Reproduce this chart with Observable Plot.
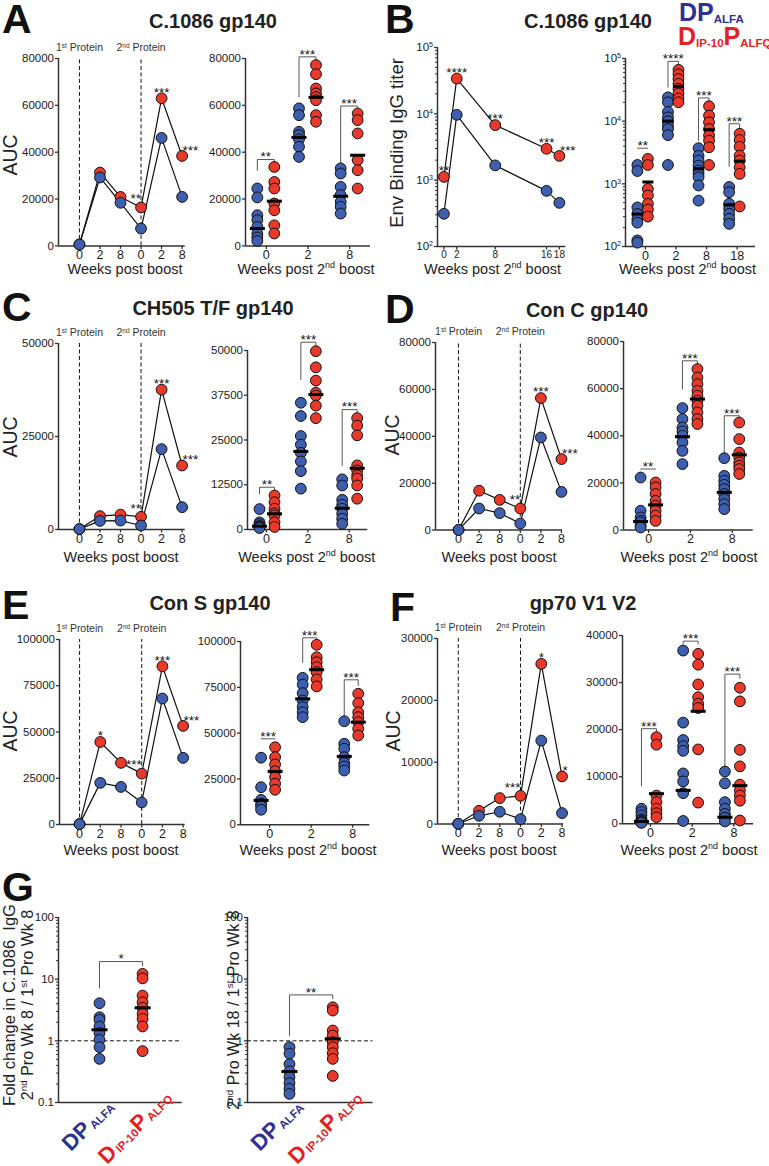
<!DOCTYPE html>
<html>
<head>
<meta charset="utf-8">
<script src="https://cdn.jsdelivr.net/npm/d3@7"></script>
<script src="https://cdn.jsdelivr.net/npm/@observablehq/plot@0.6"></script>
<style>
  html, body { margin: 0; padding: 0; background: #fff; }
  #fig { position: relative; width: 769px; height: 1166px; overflow: hidden; background: #fff;
         font-family: "Liberation Sans", Arial, Helvetica, sans-serif; color: #1a1a1a; }
  .abs { position: absolute; white-space: nowrap; line-height: 1; }
  .letter { font-weight: bold; font-size: 41px; line-height: 0.8; color: #111; }
  .title { font-weight: bold; font-size: 20px; color: #222; transform: translate(-50%, -50%); }
  .xlab { font-size: 14.5px; color: #222; transform: translate(-50%, -50%); }
  .ylab { font-size: 19.5px; color: #222; transform: translate(-50%, -50%) rotate(-90deg); }
  .ylab2 { font-size: 16px; color: #222; transform: translate(-50%, -50%) rotate(-90deg); }
  .ylab3 { font-size: 16.5px; color: #222; transform: translate(-50%, -50%) rotate(-90deg); }
  sup { font-size: 0.62em; vertical-align: 0.6em; line-height: 0; }
  .legend { font-weight: bold; }
  .big { font-size: 25px; }
  .sub { font-size: 11.5px; vertical-align: -2px; }
  .grp { font-weight: bold; transform: translate(-50%, -50%) rotate(-45deg); }
  .grp .big { font-size: 22px; }
  .grp .sub { font-size: 11.5px; vertical-align: -1px; margin-left: 2px; }
</style>
</head>
<body>
<div id="fig"></div>
<script>
// ================= DATA =================
const lineWeeks = ["0", "2", "8", "0", "2", "8"];
const boostIdx = [0, 3];
const boostLabels = ["1{st} Protein", "2{nd} Protein"];
const dotWeeks = ["0", "2", "8"];
const bWeeks = [0, 2, 8, 16, 18];
const bDotWeeks = ["0", "2", "8", "18"];
const panelLetters = ["A", "B", "C", "D", "E", "F", "G"];
const panelTitles = ["C.1086 gp140", "C.1086 gp140", "CH505 T/F gp140", "Con C gp140", "Con S gp140", "gp70 V1 V2"];
const groupLabelParts = [
  [["DP", "big"], ["ALFA", "sub"]],
  [["D", "big"], ["IP-10", "sub"], ["P", "big"], ["ALFQ", "sub"]]
];

// Panel A  (C.1086 gp140, AUC)
const aLineBlue = [600, 29200, 18400, 7400, 46100, 20900];
const aLineRed = [600, 31300, 20900, 16400, 63000, 38400];
const aLineStars = ["", "", "", "**", "***", "***"];
const aDotBlue = [[24500, 20700, 13100, 11000, 8100, 5300, 3600, 2100], [58700, 55800, 48700, 47300, 45500, 42300, 38000], [33100, 30900, 25200, 21700, 18800, 16700, 13800]];
const aDotRed = [[33700, 27300, 24500, 18100, 15200, 8800, 5300], [77200, 73300, 67200, 65100, 63500, 62200, 55800, 53000], [56500, 53700, 48000, 36600, 32300, 24500]];
const aMedBlue = [7400, 46300, 21200];
const aMedRed = [19100, 63400, 38700];
const aBrackets = [[36900, 32300, 35200], [80700, 63600, 78600], [59700, 33100, 57200]];
const aDotStars = ["**", "***", "***"];

// Panel B  (C.1086 gp140, binding titer)
const bLineBlue = [311, 9660, 1670, 690, 455];
const bLineRed = [1120, 34000, 6760, 2970, 2320];
const bLineStars = ["**", "****", "***", "***", "***"];
const bDotBlue = [[2000, 1600, 420, 330, 270, 240, 125, 115], [24000, 20000, 14000, 11500, 10000, 8500, 7500, 6000, 2000], [3700, 2800, 2350, 1950, 1630, 1440, 1270, 940, 540], [890, 735, 480, 400, 333, 277, 230]];
const bDotRed = [[2500, 2000, 830, 650, 480, 390, 300], [66000, 56000, 47000, 39500, 33000, 27600, 23000, 20000], [17300, 12300, 9600, 7500, 5900, 4900, 3830, 2000], [6300, 5000, 3900, 2820, 2350, 1830, 1440, 435]];
const bMedBlue = [330, 10000, 1740, 460];
const bMedRed = [1070, 36000, 7300, 2300];
const bBrackets = [[3700, 3700, 3700], [90000, 35000, 79000], [23500, 4900, 20000], [9100, 1900, 7800]];
const bDotStars = ["**", "****", "***", "***"];

// Panel C  (CH505 T/F gp140)
const cLineBlue = [100, 2300, 2400, 1070, 21600, 6000];
const cLineRed = [100, 3600, 4000, 3400, 37600, 17200];
const cLineStars = ["", "", "", "**", "***", "***"];
const cDotBlue = [[5700, 2000, 1500, 1000, 800, 600, 400], [35400, 31700, 26100, 23700, 21400, 19000, 16300, 11400], [14000, 12300, 8300, 6900, 5800, 4400, 3000, 1600]];
const cDotRed = [[9500, 7600, 5800, 4500, 3900, 2000, 700], [49800, 45300, 41600, 38200, 37400, 34600, 31100], [31100, 29000, 26300, 17900, 16500, 15100, 14200, 12300, 8600]];
const cMedBlue = [930, 21800, 5950];
const cMedRed = [4380, 37700, 17100];
const cBrackets = [[11800, 10000, 10400], [52300, 41900, 51400], [33500, 17900, 32200]];
const cDotStars = ["**", "***", "***"];

// Panel D  (Con C gp140)
const dLineBlue = [100, 9200, 7250, 2800, 39500, 16300];
const dLineRed = [100, 16800, 12900, 9200, 56300, 30300];
const dLineStars = ["", "", "", "**", "***", "***"];
const dDotBlue = [[22300, 8200, 5350, 4000, 3200, 1800, 1100], [51750, 47100, 43500, 41800, 40000, 37200, 33600, 28000], [30500, 23000, 20900, 19200, 17400, 15300, 13100, 11000, 8900]];
const dDotRed = [[20200, 18100, 15300, 12400, 10300, 8200, 6100, 3900], [68300, 64700, 61900, 59100, 57000, 54900, 52700, 49900, 47100, 45000], [45600, 38600, 32900, 30800, 28700, 27300, 25900, 23800]];
const dMedBlue = [3650, 39600, 16000];
const dMedRed = [10700, 55600, 31900];
const dBrackets = [[25900, 25900, 25900], [71800, 59800, 70100], [48500, 32900, 46700]];
const dDotStars = ["**", "***", "***"];

// Panel E  (Con S gp140)
const eLineBlue = [200, 22500, 20300, 11900, 68100, 36000];
const eLineRed = [200, 44600, 33300, 27500, 85500, 53300];
const eLineStars = ["", "*", "", "***", "***", "***"];
const eDotBlue = [[36600, 20500, 13600, 11500, 10000, 8200], [80200, 76500, 71800, 67800, 64200, 61400, 58700], [56500, 44200, 41500, 36900, 33600, 31800, 29600]];
const eDotRed = [[42300, 36900, 32900, 29200, 26000, 22400, 19100], [98200, 91400, 88700, 86000, 83300, 79300, 75500], [71500, 66400, 61400, 58700, 56000, 52400, 48700]];
const eMedBlue = [13300, 68700, 37300];
const eMedRed = [29100, 84600, 56000];
const eBrackets = [[46900, 46900, 46900], [102000, 88700, 99600], [79100, 58700, 76000]];
const eDotStars = ["***", "***", "***"];

// Panel F  (gp70 V1 V2)
const fLineBlue = [50, 1340, 1990, 800, 13500, 1780];
const fLineRed = [50, 2150, 4200, 4570, 25900, 7700];
const fLineStars = ["", "", "", "***", "*", "*"];
const fDotBlue = [[3200, 2500, 1800, 1000, 700, 500, 300, 200], [36800, 21500, 17800, 16500, 15500, 10700, 9000, 6500, 600], [11100, 8600, 4600, 3200, 2100, 1300, 500]];
const fDotRed = [[18400, 16800, 6000, 4600, 3200, 2250, 1400], [36100, 33800, 29600, 26900, 25500, 24600, 15800, 4500], [28900, 26000, 15700, 12200, 8300, 7100, 6000, 4900, 700]];
const fMedBlue = [500, 7100, 1400];
const fMedRed = [6400, 23900, 8100];
const fBrackets = [[20200, 8000, 19100], [38800, 38200, 38200], [31800, 12000, 30900]];
const fDotStars = ["***", "***", "***"];

// Panel G  (fold change)
const gLeftBlue = [4.07, 2.41, 2.19, 1.71, 1.33, 1.04, 0.79, 0.51];
const gLeftRed = [12.2, 10.3, 5.42, 4.22, 3.43, 2.74, 2.27, 1.71, 0.68];
const gLeftMedBlue = [1.51];
const gLeftMedRed = [3.43];
const gLeftBracket = [[19.3, 7.2, 16.6]];
const gLeftStars = ["*"];
const gRightBlue = [0.79, 0.62, 0.42, 0.32, 0.257, 0.206, 0.167, 0.138];
const gRightRed = [3.5, 3.1, 1.47, 1.22, 0.95, 0.79, 0.63, 0.51, 0.27];
const gRightMedBlue = [0.318];
const gRightMedRed = [1.08];
const gRightBracket = [[5.56, 1.22, 4.8]];
const gRightStars = ["**"];

// ================= RENDER =================
const FONT = '"Liberation Sans", Arial, Helvetica, sans-serif';
const BLUE = "#3d5fae", RED = "#e8392b", INK = "#111", AXIS = "#333";
const LEG_BLUE = "#2e3192", LEG_RED = "#e41f26";
const fig = document.getElementById("fig");
const M = {l: 60, r: 40, t: 28, b: 26};

function supify(root) {
  root.querySelectorAll("text, tspan").forEach(el => {
    if (el.childElementCount > 0) return;
    const s = el.textContent;
    if (!s.includes("{")) return;
    el.textContent = "";
    for (const p of s.split(/(\{[^}]*\})/)) {
      if (!p) continue;
      const ts = document.createElementNS("http://www.w3.org/2000/svg", "tspan");
      if (p.startsWith("{")) {
        ts.textContent = p.slice(1, -1);
        ts.setAttribute("baseline-shift", "super");
        ts.setAttribute("font-size", "0.62em");
      } else ts.textContent = p;
      el.appendChild(ts);
    }
  });
}

function mount(box, opts) {
  const el = Plot.plot({
    width: box.x1 - box.x0 + M.l + M.r,
    height: box.yBot - box.yTop + M.t + M.b,
    marginLeft: M.l, marginRight: M.r, marginTop: M.t, marginBottom: M.b,
    style: {background: "transparent", overflow: "visible", fontFamily: FONT, fontSize: "11.5px", color: "#1a1a1a"},
    ...opts,
    marks: opts.marks.filter(Boolean)
  });
  el.style.position = "absolute";
  el.style.left = (box.x0 - M.l) + "px";
  el.style.top = (box.yTop - M.t) + "px";
  fig.appendChild(el);
  supify(el);
  el._left = box.x0 - M.l;
  return el;
}

function html(cls, x, y, inner, color) {
  const d = document.createElement("div");
  d.className = "abs " + cls;
  d.innerHTML = inner;
  d.style.left = x + "px";
  d.style.top = y + "px";
  if (color) d.style.color = color;
  fig.appendChild(d);
  return d;
}

const yAxis = (ticks, fmt) => Plot.axisY(ticks, {tickSize: 3, tickPadding: 1.5, tickFormat: fmt, stroke: AXIS, strokeWidth: 1.3, fontSize: 11.5, label: null});
const yMinor = (ticks) => Plot.axisY(ticks, {tickSize: 2, tickFormat: () => "", stroke: AXIS, strokeWidth: 1, label: null});
const xAxis = (ticks, fmt, fs = 12.5) => Plot.axisX(ticks, {tickSize: 3.5, tickPadding: 1, tickFormat: fmt, stroke: AXIS, strokeWidth: 1.3, fontSize: fs, label: null});
const logFmt = d => "10{" + Math.round(Math.log10(d)) + "}";
const minorLog = (lo, hi) => d3.range(Math.round(Math.log10(lo)), Math.round(Math.log10(hi)))
  .flatMap(k => d3.range(2, 10).map(m => +(m * Math.pow(10, k)).toPrecision(3)));
const hbar = half => ({draw(ctx) { ctx.moveTo(-half, 0); ctx.lineTo(half, 0); }});
const dotStyle = fill => ({r: 5.4, fill, stroke: INK, strokeWidth: 1});

function starMarks(S) {
  const t = (pos, o) => Plot.text(S.filter(d => d.pos === pos), {x: "x", y: "v", text: "s", fontSize: 13.5, fill: INK, ...o});
  return [
    t("above", {dy: -6}),
    t("left", {dy: -8.5, textAnchor: "end"}),
    t("right", {dy: -5.5, dx: 0.5, textAnchor: "start"})
  ];
}

function linePanel(box, xDomain, yMax, yTicks, blue, red, stars) {
  const n = blue.length, idx = d3.range(n);
  const B = blue.map((v, i) => ({x: i, v})), R = red.map((v, i) => ({x: i, v}));
  const pos = i => i === n - 1 ? "right" : (i > 0 && boostIdx.includes(i) ? "left" : "above");
  const S = stars.map((s, i) => ({x: i, v: red[i], s, pos: pos(i)})).filter(d => d.s);
  return mount(box, {
    x: {type: "linear", domain: xDomain, axis: null},
    y: {type: "linear", domain: [0, yMax], axis: null, label: null},
    marks: [
      Plot.ruleX(boostIdx, {y1: 0, y2: yMax, stroke: INK, strokeWidth: 1, strokeDasharray: "4,2.5"}),
      Plot.text(boostIdx.map((x, k) => ({x, t: boostLabels[k]})), {x: "x", y: () => yMax, text: "t", dy: -10.5, fontSize: 10.5, fill: "#333"}),
      Plot.ruleX([xDomain[0]], {y1: 0, y2: yMax, stroke: AXIS, strokeWidth: 1.5}),
      Plot.ruleY([0], {x1: xDomain[0], x2: xDomain[1], stroke: AXIS, strokeWidth: 1.5}),
      yAxis(yTicks, d => String(d)),
      xAxis(idx, i => lineWeeks[i]),
      Plot.line(R, {x: "x", y: "v", stroke: INK, strokeWidth: 1.2}),
      Plot.line(B, {x: "x", y: "v", stroke: INK, strokeWidth: 1.2}),
      Plot.dot(R, {x: "x", y: "v", ...dotStyle(RED)}),
      Plot.dot(B, {x: "x", y: "v", ...dotStyle(BLUE)}),
      ...starMarks(S)
    ]
  });
}

function dotPanel(p) {
  const {box, xDomain, yType = "linear", yDomain, yTicks, yFmt, minor, blue, red, medB, medR, brackets, stars,
         bx, rx, xTicks, xFmt, medHalf = 7, extra = []} = p;
  const ptsB = blue.flatMap((a, c) => a.map(v => ({x: bx(c), v})));
  const ptsR = red.flatMap((a, c) => a.map(v => ({x: rx(c), v})));
  const meds = medB.map((v, c) => ({x: bx(c), v})).concat(medR.map((v, c) => ({x: rx(c), v})));
  const br = brackets.flatMap(([bar, be, re], c) => [
    {c, x: bx(c), v: be}, {c, x: bx(c), v: bar}, {c, x: rx(c), v: bar}, {c, x: rx(c), v: re}]);
  const st = brackets.map(([bar], c) => ({x: (bx(c) + rx(c)) / 2, v: bar, s: stars[c]}));
  return mount(box, {
    x: {type: "linear", domain: xDomain, axis: null},
    y: {type: yType, domain: yDomain, axis: null, label: null},
    marks: [
      Plot.ruleX([xDomain[0]], {y1: yDomain[0], y2: yDomain[1], stroke: AXIS, strokeWidth: 1.5}),
      Plot.ruleY([yDomain[0]], {x1: xDomain[0], x2: xDomain[1], stroke: AXIS, strokeWidth: 1.5}),
      minor ? yMinor(minor) : null,
      yAxis(yTicks, yFmt),
      xTicks ? xAxis(xTicks, xFmt) : null,
      ...extra,
      Plot.line(br, {x: "x", y: "v", z: "c", stroke: "#555", strokeWidth: 1}),
      Plot.text(st, {x: "x", y: "v", text: "s", dy: -2.5, fontSize: 13.5, fill: INK}),
      Plot.dot(ptsB, {x: "x", y: "v", ...dotStyle(BLUE)}),
      Plot.dot(ptsR, {x: "x", y: "v", ...dotStyle(RED)}),
      Plot.dot(meds, {x: "x", y: "v", symbol: hbar(medHalf), r: medHalf, fill: "none", stroke: "#000", strokeWidth: 3})
    ]
  });
}

function stdDot(box, xDomain, yMax, yTicks, cats, blue, red, medB, medR, brackets, stars, offB, offR, medHalf) {
  const unit = (box.x1 - box.x0) / (xDomain[1] - xDomain[0]);
  return dotPanel({
    box, xDomain, yDomain: [0, yMax], yTicks, yFmt: d => String(d),
    blue, red, medB, medR, brackets, stars, medHalf,
    bx: c => c + offB / unit, rx: c => c + offR / unit,
    xTicks: cats.map((_, i) => i), xFmt: i => cats[i]
  });
}

// ---------- Panel A ----------
linePanel({x0: 58.3, x1: 185, yTop: 58.3, yBot: 245.7}, [-1.02, 5.15], 80000, [0, 20000, 40000, 60000, 80000], aLineBlue, aLineRed, aLineStars);
stdDot({x0: 245, x1: 370, yTop: 58.3, yBot: 245.7}, [-0.5, 2.5], 80000, [0, 20000, 40000, 60000, 80000], dotWeeks,
  aDotBlue, aDotRed, aMedBlue, aMedRed, aBrackets, aDotStars, -9, 8, 7.5);

// ---------- Panel B ----------
(function () {
  const box = {x0: 436.7, x1: 565, yTop: 47, yBot: 246};
  const xDomain = [-1, 19];
  const n = bWeeks.length;
  const B = bLineBlue.map((v, i) => ({x: bWeeks[i], v})), R = bLineRed.map((v, i) => ({x: bWeeks[i], v}));
  const S = bLineStars.map((s, i) => ({x: bWeeks[i], v: bLineRed[i], s, pos: i === n - 1 ? "right" : "above"}));
  mount(box, {
    x: {type: "linear", domain: xDomain, axis: null},
    y: {type: "log", domain: [100, 1e5], axis: null, label: null},
    marks: [
      Plot.ruleX([xDomain[0]], {y1: 100, y2: 1e5, stroke: AXIS, strokeWidth: 1.5}),
      Plot.ruleY([100], {x1: xDomain[0], x2: xDomain[1], stroke: AXIS, strokeWidth: 1.5}),
      yMinor(minorLog(100, 1e5)),
      yAxis([100, 1000, 10000, 100000], logFmt),
      xAxis(bWeeks, d => String(d), 10),
      Plot.line(R, {x: "x", y: "v", stroke: INK, strokeWidth: 1.2}),
      Plot.line(B, {x: "x", y: "v", stroke: INK, strokeWidth: 1.2}),
      Plot.dot(R, {x: "x", y: "v", ...dotStyle(RED)}),
      Plot.dot(B, {x: "x", y: "v", ...dotStyle(BLUE)}),
      ...starMarks(S)
    ]
  });
  const box2 = {x0: 625, x1: 755, yTop: 58, yBot: 246};
  const xd2 = [-0.65, 3.6];
  const unit = (box2.x1 - box2.x0) / (xd2[1] - xd2[0]);
  dotPanel({
    box: box2, xDomain: xd2, yType: "log", yDomain: [100, 1e5], yTicks: [100, 1000, 10000, 100000], yFmt: logFmt,
    minor: minorLog(100, 1e5), blue: bDotBlue, red: bDotRed, medB: bMedBlue, medR: bMedRed,
    brackets: bBrackets, stars: bDotStars, medHalf: 5.5,
    bx: c => c - 8 / unit, rx: c => c + 2.5 / unit,
    xTicks: bDotWeeks.map((_, i) => i), xFmt: i => bDotWeeks[i]
  });
})();

// ---------- Panel C ----------
linePanel({x0: 58.3, x1: 185, yTop: 343.3, yBot: 529.3}, [-1.02, 5.15], 50000, [0, 25000, 50000], cLineBlue, cLineRed, cLineStars);
stdDot({x0: 246.7, x1: 367, yTop: 350, yBot: 529}, [-0.46, 2.45], 50000, [0, 12500, 25000, 37500, 50000], dotWeeks,
  cDotBlue, cDotRed, cMedBlue, cMedRed, cBrackets, cDotStars, -7, 8, 7.5);

// ---------- Panel D ----------
linePanel({x0: 435, x1: 562, yTop: 341.7, yBot: 529.3}, [-1.12, 5.05], 80000, [0, 20000, 40000, 60000, 80000], dLineBlue, dLineRed, dLineStars);
stdDot({x0: 623.3, x1: 753, yTop: 340.7, yBot: 529.3}, [-0.6, 2.5], 80000, [0, 20000, 40000, 60000, 80000], dotWeeks,
  dDotBlue, dDotRed, dMedBlue, dMedRed, dBrackets, dDotStars, -8, 7, 7.5);

// ---------- Panel E ----------
linePanel({x0: 59.3, x1: 185, yTop: 639.3, yBot: 824.3}, [-0.97, 5.1], 100000, [0, 25000, 50000, 75000, 100000], eLineBlue, eLineRed, eLineStars);
stdDot({x0: 240, x1: 369.3, yTop: 641, yBot: 824.3}, [-0.7, 2.41], 100000, [0, 25000, 50000, 75000, 100000], dotWeeks,
  eDotBlue, eDotRed, eMedBlue, eMedRed, eBrackets, eDotStars, -8.5, 5.5, 7.5);

// ---------- Panel F ----------
linePanel({x0: 437, x1: 563, yTop: 637.7, yBot: 823.3}, [-1, 5.07], 30000, [0, 10000, 20000, 30000], fLineBlue, fLineRed, fLineStars);
stdDot({x0: 622, x1: 753, yTop: 635, yBot: 823.3}, [-0.67, 2.47], 40000, [0, 10000, 20000, 30000, 40000], dotWeeks,
  fDotBlue, fDotRed, fMedBlue, fMedRed, fBrackets, fDotStars, -9, 6, 7.5);

// ---------- Panel G ----------
function gPanel(box, xDomain, blue, red, medB, medR, bracket, stars) {
  const el = dotPanel({
    box, xDomain, yType: "log", yDomain: [0.1, 100], yTicks: [0.1, 1, 10, 100],
    yFmt: d => d < 1 ? "0.1" : String(d), minor: minorLog(0.1, 100),
    blue: [blue], red: [red], medB, medR, brackets: bracket, stars, medHalf: 8,
    bx: () => 0, rx: () => 1,
    extra: [Plot.ruleY([1], {x1: xDomain[0], x2: xDomain[1], stroke: INK, strokeWidth: 1, strokeDasharray: "4,2.5"})]
  });
  const sx = el.scale("x");
  const offs = [[-11, 23], [-7, 25]];
  const cols = [LEG_BLUE, LEG_RED];
  groupLabelParts.forEach((parts, c) => {
    const inner = parts.map(([t, cl]) => `<span class="${cl}">${t}</span>`).join("");
    html("grp", el._left + sx.apply(c) + offs[c][0], box.yBot + offs[c][1], inner, cols[c]);
  });
  return el;
}
gPanel({x0: 58.3, x1: 182, yTop: 916.7, yBot: 1101.7}, [-0.953, 1.92], gLeftBlue, gLeftRed, gLeftMedBlue, gLeftMedRed, gLeftBracket, gLeftStars);
gPanel({x0: 246.5, x1: 372, yTop: 916.7, yBot: 1101.7}, [-0.97, 1.93], gRightBlue, gRightRed, gRightMedBlue, gRightMedRed, gRightBracket, gRightStars);

// ---------- Text: letters, titles, axis titles, legend ----------
const letterPos = [[2, 3], [385, 3], [2, 291], [385, 293], [2, 589], [390, 591], [2, 871]];
panelLetters.forEach((L, i) => html("letter", letterPos[i][0], letterPos[i][1], L));
const titlePos = [[213, 21], [588, 21], [213, 308], [587, 310], [210, 603], [583, 603]];
panelTitles.forEach((t, i) => html("title", titlePos[i][0], titlePos[i][1], t));

const wpb = "Weeks post boost", wp2 = "Weeks post 2<sup>nd</sup> boost";
[[125, 268.5, wpb], [306, 268.5, wp2], [492.5, 268.5, wp2], [687.5, 268.5, wp2],
 [121, 557, wpb], [306.7, 557, wp2], [499, 557, wpb], [689, 557, wp2],
 [121, 850, wpb], [308, 850, wp2], [499, 850, wpb], [689, 850, wp2]]
  .forEach(([x, y, t]) => html("xlab", x, y, t));

[[11, 155], [11, 437], [393, 435], [11, 731], [394, 731]].forEach(([x, y]) => html("ylab", x, y, "AUC"));
html("ylab", 397, 143, "Env Binding IgG titer").style.fontSize = "18.5px";
html("ylab3", 9, 1005, "Fold change in C.1086&nbsp; IgG");
html("ylab2", 27.5, 1005, "2<sup>nd</sup> Pro Wk 8 / 1<sup>st</sup> Pro Wk 8");
html("ylab2", 234, 1010, "2<sup>nd</sup> Pro Wk 18 / 1<sup>st</sup> Pro Wk 8");

// legend
const legPos = [[679, 0], [678, 24]];
const legCols = [LEG_BLUE, LEG_RED];
groupLabelParts.forEach((parts, c) => {
  const inner = parts.map(([t, cl]) => `<span class="${cl}">${t}</span>`).join("");
  html("legend", legPos[c][0], legPos[c][1], inner, legCols[c]);
});
</script>
</body>
</html>
